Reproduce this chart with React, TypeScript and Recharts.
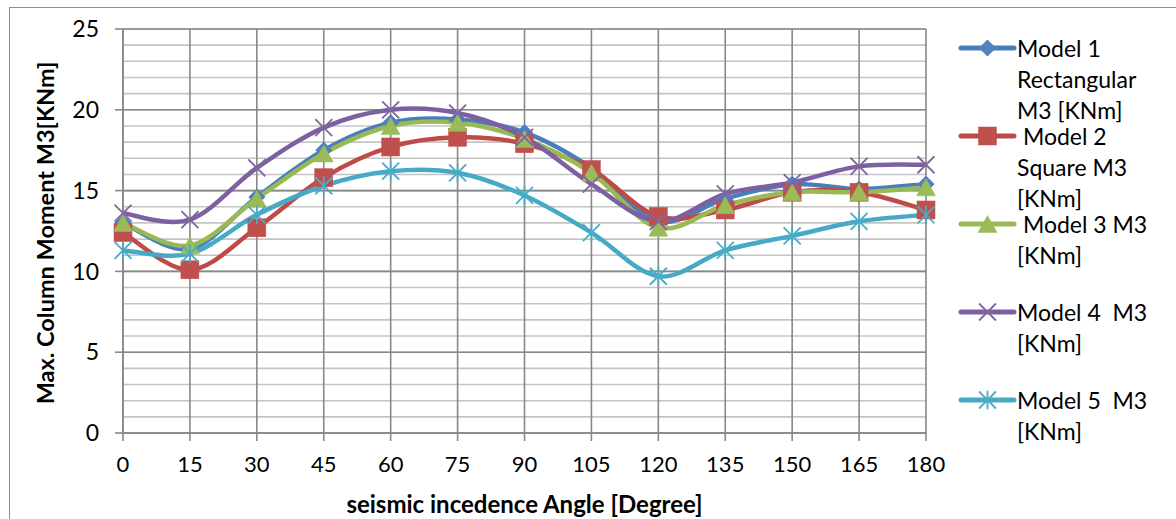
import React from "react";
import { LineChart, Line, XAxis, YAxis, CartesianGrid, Legend, Label } from "recharts";

const angles = [0, 15, 30, 45, 60, 75, 90, 105, 120, 135, 150, 165, 180];
const model1 = [13.0, 11.4, 14.6, 17.5, 19.2, 19.4, 18.6, 16.4, 13.1, 14.5, 15.4, 15.1, 15.4];
const model2 = [12.4, 10.1, 12.7, 15.8, 17.7, 18.3, 17.9, 16.3, 13.4, 13.8, 14.9, 14.9, 13.8];
const model3 = [13.0, 11.6, 14.5, 17.3, 19.0, 19.2, 18.2, 16.1, 12.7, 14.1, 14.9, 14.9, 15.2];
const model4 = [13.6, 13.2, 16.4, 18.9, 20.0, 19.8, 18.3, 15.4, 13.1, 14.8, 15.5, 16.5, 16.6];
const model5 = [11.3, 11.1, 13.5, 15.3, 16.2, 16.1, 14.7, 12.4, 9.7, 11.3, 12.2, 13.1, 13.5];

const yTicks = [0, 5, 10, 15, 20, 25];
const yMinorTicks = [0, 1, 2, 3, 4, 5, 6, 7, 8, 9, 10, 11, 12, 13, 14, 15, 16, 17, 18, 19, 20, 21, 22, 23, 24, 25];

const seriesKeys = ["m1", "m2", "m3", "m4", "m5"];
const seriesNames = [
  "Model 1 Rectangular M3 [KNm]",
  " Model 2 Square M3 [KNm]",
  " Model 3 M3 [KNm]",
  "Model 4  M3 [KNm]",
  "Model 5  M3 [KNm]",
];
const legendLines = [
  ["Model 1", "Rectangular", "M3 [KNm]"],
  [" Model 2", "Square M3", "[KNm]"],
  [" Model 3 M3", "[KNm]"],
  ["Model 4  M3", "[KNm]"],
  ["Model 5  M3", "[KNm]"],
];
const seriesValues = [model1, model2, model3, model4, model5];
const lineColors = ["#4A7EBB", "#BE4B48", "#98B954", "#7D60A0", "#46AAC5"];
const markerColors = ["#4F81BD", "#C0504D", "#9BBB59", "#8064A2", "#4BACC6"];
const markerShapes = ["diamond", "square", "triangle", "x", "star"];

const rows = angles.map((a, i) => {
  const r: any = { angle: a };
  seriesKeys.forEach((k, j) => (r[k] = seriesValues[j][i]));
  return r;
});

const FONT = "Lato, 'Open Sans', sans-serif";

function excelCurve(context: any) {
  let pts: number[][] = [];
  return {
    areaStart() {},
    areaEnd() {},
    lineStart() {
      pts = [];
    },
    point(x: number, y: number) {
      pts.push([+x, +y]);
    },
    lineEnd() {
      const n = pts.length;
      if (!n) return;
      context.moveTo(pts[0][0], pts[0][1]);
      for (let i = 0; i < n - 1; i++) {
        const p0 = pts[Math.max(i - 1, 0)];
        const p1 = pts[i];
        const p2 = pts[i + 1];
        const p3 = pts[Math.min(i + 2, n - 1)];
        context.bezierCurveTo(
          p1[0] + (p2[0] - p0[0]) / 6,
          p1[1] + (p2[1] - p0[1]) / 6,
          p2[0] - (p3[0] - p1[0]) / 6,
          p2[1] - (p3[1] - p1[1]) / 6,
          p2[0],
          p2[1]
        );
      }
    },
  };
}

function Marker({ shape, cx, cy, color }: { shape: string; cx: number; cy: number; color: string }) {
  if (shape === "diamond") {
    const s = 8;
    return <polygon points={`${cx},${cy - s} ${cx + s},${cy} ${cx},${cy + s} ${cx - s},${cy}`} fill={color} stroke={color} strokeWidth={1} />;
  }
  if (shape === "square") {
    const s = 9;
    return <rect x={cx - s} y={cy - s} width={2 * s} height={2 * s} fill={color} stroke={color} strokeWidth={0.5} />;
  }
  if (shape === "triangle") {
    const w = 9.5;
    const h = 8.5;
    return <polygon points={`${cx},${cy - h} ${cx + w},${cy + h} ${cx - w},${cy + h}`} fill={color} stroke={color} strokeWidth={0.5} />;
  }
  if (shape === "x") {
    const s = 8.5;
    return (
      <g stroke={color} strokeWidth={1.8}>
        <line x1={cx - s} y1={cy - s} x2={cx + s} y2={cy + s} />
        <line x1={cx - s} y1={cy + s} x2={cx + s} y2={cy - s} />
      </g>
    );
  }
  const s = 8.5;
  return (
    <g stroke={color} strokeWidth={1.8}>
      <line x1={cx - s} y1={cy - s} x2={cx + s} y2={cy + s} />
      <line x1={cx - s} y1={cy + s} x2={cx + s} y2={cy - s} />
      <line x1={cx} y1={cy - s - 1} x2={cx} y2={cy + s + 1} />
    </g>
  );
}

function LegendContent() {
  return (
    <div style={{ position: "relative", width: 220, height: 440, fontFamily: FONT, fontSize: 23, color: "#000" }}>
      {seriesKeys.map((k, i) => {
        const top = i * 88;
        return (
          <div key={k} style={{ position: "absolute", left: 0, top: top }}>
            <svg width={60} height={32} style={{ position: "absolute", left: 0, top: 0 }}>
              <line x1={3} y1={16} x2={56} y2={16} stroke={lineColors[i]} strokeWidth={5} strokeLinecap="round" />
              <Marker shape={markerShapes[i]} cx={29.5} cy={16} color={markerColors[i]} />
            </svg>
            <div style={{ position: "absolute", left: 59, top: 4, whiteSpace: "pre" }}>
              {legendLines[i].map((t, j) => (
                <div key={j} style={{ lineHeight: "24px", height: 24, marginBottom: 7 }}>{t}</div>
              ))}
            </div>
          </div>
        );
      })}
    </div>
  );
}

export default function App() {
  return (
    <div style={{ position: "fixed", left: 0, top: 0, width: 1176, height: 519, background: "#fff", overflow: "hidden" }}>
      <div style={{ position: "absolute", left: 9, top: 7, width: 1200, height: 600, borderLeft: "1.5px solid #8c8c8c", borderTop: "1.5px solid #8c8c8c" }} />
      <div style={{ position: "absolute", left: 0, top: 0 }}>
        <LineChart width={1176} height={519} data={rows} margin={{ top: 29, right: 250, bottom: 0, left: 0 }}>
          <CartesianGrid horizontalValues={yMinorTicks} vertical={false} stroke="#c4c4c4" strokeWidth={1.6} />
          <CartesianGrid stroke="#888888" strokeWidth={1.6} />
          <XAxis
            dataKey="angle"
            type="number"
            domain={[0, 180]}
            ticks={angles}
            height={86}
            interval={0}
            tickSize={8}
            tickMargin={15}
            axisLine={{ stroke: "#888888", strokeWidth: 1.6 }}
            tickLine={{ stroke: "#888888", strokeWidth: 1.6 }}
            tick={{ fill: "#000", fontSize: 22, fontFamily: FONT }}
          >
            <Label
              content={(props: any) => {
                const vb = props.viewBox || { x: 123, y: 433, width: 803, height: 86 };
                return (
                  <text x={vb.x + vb.width / 2} y={503} textAnchor="middle" dominantBaseline="central" fontFamily={FONT} fontWeight="bold" fontSize={24} fill="#000">
                    seismic incedence Angle [Degree]
                  </text>
                );
              }}
            />
          </XAxis>
          <YAxis
            type="number"
            domain={[0, 25]}
            ticks={yTicks}
            width={123}
            interval={0}
            tickSize={8}
            tickMargin={16}
            axisLine={{ stroke: "#888888", strokeWidth: 1.6 }}
            tickLine={{ stroke: "#888888", strokeWidth: 1.6 }}
            tick={{ fill: "#000", fontSize: 23, fontFamily: FONT }}
          >
            <Label
              content={(props: any) => {
                const vb = props.viewBox || { x: 0, y: 29, width: 123, height: 404 };
                const cx = 45;
                const cy = vb.y + vb.height / 2 + 2;
                return (
                  <text x={cx} y={cy} transform={`rotate(-90 ${cx} ${cy})`} textAnchor="middle" dominantBaseline="central" fontFamily={FONT} fontWeight="bold" fontSize={23.5} fill="#000">
                    Max. Column Moment M3[KNm]
                  </text>
                );
              }}
            />
          </YAxis>
          <Legend
            layout="vertical"
            align="center"
            verticalAlign="middle"
            content={() => <LegendContent />}
            wrapperStyle={{ left: 958, top: 32, width: 220, height: 440 }}
          />
          {seriesKeys.map((k, i) => (
            <Line
              key={k}
              dataKey={k}
              name={seriesNames[i]}
              type={excelCurve as any}
              stroke={lineColors[i]}
              strokeWidth={4.5}
              isAnimationActive={false}
              dot={(p: any) => <Marker key={`${k}-${p.index}`} shape={markerShapes[i]} cx={p.cx} cy={p.cy} color={markerColors[i]} />}
              activeDot={false}
            />
          ))}
        </LineChart>
      </div>
    </div>
  );
}
